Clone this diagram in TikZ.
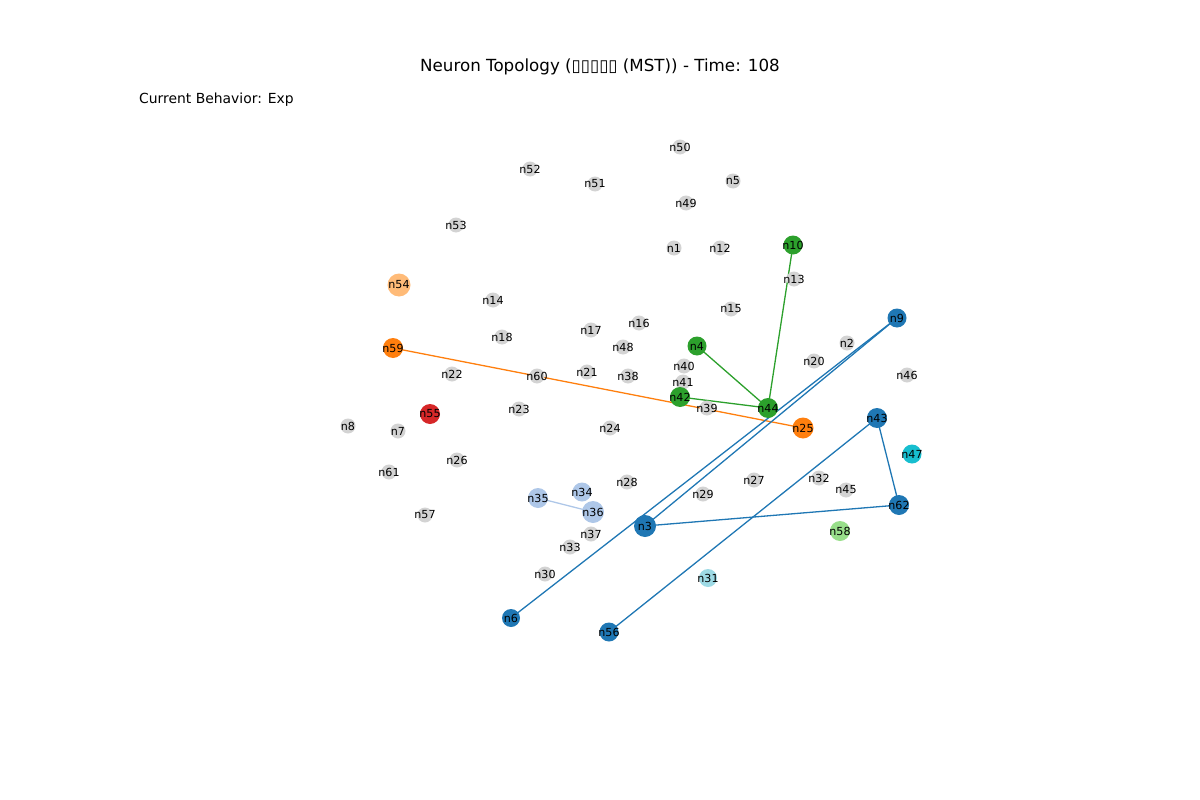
\documentclass[tikz,border=0pt]{standalone}
\usepackage{fontspec}
\setmainfont{DejaVu Sans}
\usetikzlibrary{backgrounds}
\definecolor{tabBlue}{HTML}{1F77B4}
\definecolor{tabLightBlue}{HTML}{AEC7E8}
\definecolor{tabOrange}{HTML}{FF7F0E}
\definecolor{tabLightOrange}{HTML}{FFBB78}
\definecolor{tabGreen}{HTML}{2CA02C}
\definecolor{tabLightGreen}{HTML}{98DF8A}
\definecolor{tabRed}{HTML}{D62728}
\definecolor{tabCyan}{HTML}{17BECF}
\definecolor{tabLightCyan}{HTML}{9EDAE5}
\definecolor{nodeGray}{HTML}{D3D3D3}
\newcommand{\neuronlabel}[1]{\makebox[0pt]{#1}}

\begin{document}
\begin{tikzpicture}[x=1pt, y=-1pt,
  nd/.style={circle, inner sep=0pt, minimum size=15pt, fill=nodeGray, text=black, font=\fontsize{11.1}{13}\selectfont},
  big/.style={nd, minimum size=20pt},
  link/.style={line width=1.3pt}]
	\useasboundingbox (0,0) rectangle (1200,800);
	\node[inner sep=0pt, font=\fontsize{16.7}{20}\selectfont] (title) at (600,67) {Neuron Topology (▯▯▯▯▯ (MST)) - Time: 108};
	\node[inner sep=0pt, anchor=west, font=\fontsize{13.9}{16}\selectfont] (behav) at (139,100) {Current Behavior: Exp};
	% grey neurons
	\node[nd] (n50) at (680,147) {\neuronlabel{n50}};
	\node[nd] (n52) at (530,169) {\neuronlabel{n52}};
	\node[nd] (n51) at (595,184) {\neuronlabel{n51}};
	\node[nd] (n5) at (733,181) {\neuronlabel{n5}};
	\node[nd] (n49) at (686,203) {\neuronlabel{n49}};
	\node[nd] (n53) at (456,225) {\neuronlabel{n53}};
	\node[nd] (n1) at (674,248) {\neuronlabel{n1}};
	\node[nd] (n12) at (720,248) {\neuronlabel{n12}};
	\node[nd] (n13) at (794,279) {\neuronlabel{n13}};
	\node[nd] (n14) at (493,300) {\neuronlabel{n14}};
	\node[nd] (n15) at (731,309) {\neuronlabel{n15}};
	\node[nd] (n16) at (639,323) {\neuronlabel{n16}};
	\node[nd] (n17) at (591,330) {\neuronlabel{n17}};
	\node[nd] (n18) at (502,337) {\neuronlabel{n18}};
	\node[nd] (n2) at (847,343) {\neuronlabel{n2}};
	\node[nd] (n48) at (623,347) {\neuronlabel{n48}};
	\node[nd] (n40) at (684,366) {\neuronlabel{n40}};
	\node[nd] (n20) at (814,361) {\neuronlabel{n20}};
	\node[nd] (n21) at (587,372) {\neuronlabel{n21}};
	\node[nd] (n22) at (452,374) {\neuronlabel{n22}};
	\node[nd] (n60) at (537,376) {\neuronlabel{n60}};
	\node[nd] (n38) at (628,376) {\neuronlabel{n38}};
	\node[nd] (n46) at (907,375) {\neuronlabel{n46}};
	\node[nd] (n41) at (683,382) {\neuronlabel{n41}};
	\node[nd] (n39) at (707,408) {\neuronlabel{n39}};
	\node[nd] (n23) at (519,409) {\neuronlabel{n23}};
	\node[nd] (n8) at (348,426) {\neuronlabel{n8}};
	\node[nd] (n7) at (398,431) {\neuronlabel{n7}};
	\node[nd] (n24) at (610,428) {\neuronlabel{n24}};
	\node[nd] (n26) at (457,460) {\neuronlabel{n26}};
	\node[nd] (n61) at (389,472) {\neuronlabel{n61}};
	\node[nd] (n28) at (627,482) {\neuronlabel{n28}};
	\node[nd] (n27) at (754,480) {\neuronlabel{n27}};
	\node[nd] (n32) at (819,478) {\neuronlabel{n32}};
	\node[nd] (n45) at (846,490) {\neuronlabel{n45}};
	\node[nd] (n29) at (703,494) {\neuronlabel{n29}};
	\node[nd] (n57) at (425,515) {\neuronlabel{n57}};
	\node[nd] (n37) at (591,534) {\neuronlabel{n37}};
	\node[nd] (n33) at (570,547) {\neuronlabel{n33}};
	\node[nd] (n30) at (545,574) {\neuronlabel{n30}};
	% coloured neurons
	\node[big, fill=tabLightOrange, minimum size=23pt] (n54) at (399,285) {\neuronlabel{n54}};
	\node[big, fill=tabOrange] (n59) at (393,348) {\neuronlabel{n59}};
	\node[big, fill=tabOrange, minimum size=21pt] (n25) at (803,428) {\neuronlabel{n25}};
	\node[big, fill=tabGreen, minimum size=19pt] (n10) at (793,245) {\neuronlabel{n10}};
	\node[big, fill=tabGreen, minimum size=19pt] (n4) at (697,346) {\neuronlabel{n4}};
	\node[big, fill=tabGreen] (n42) at (680,397) {\neuronlabel{n42}};
	\node[big, fill=tabGreen] (n44) at (768,408) {\neuronlabel{n44}};
	\node[big, fill=tabRed] (n55) at (430,414) {\neuronlabel{n55}};
	\node[big, fill=tabBlue, minimum size=19pt] (n9) at (897,318) {\neuronlabel{n9}};
	\node[big, fill=tabBlue] (n43) at (877,418) {\neuronlabel{n43}};
	\node[big, fill=tabBlue] (n62) at (899,505) {\neuronlabel{n62}};
	\node[big, fill=tabBlue, minimum size=22pt] (n3) at (645,526) {\neuronlabel{n3}};
	\node[big, fill=tabBlue, minimum size=18pt] (n6) at (511,618) {\neuronlabel{n6}};
	\node[big, fill=tabBlue, minimum size=19pt] (n56) at (609,632) {\neuronlabel{n56}};
	\node[big, fill=tabCyan, minimum size=19pt] (n47) at (912,454) {\neuronlabel{n47}};
	\node[big, fill=tabLightGreen] (n58) at (840,531) {\neuronlabel{n58}};
	\node[big, fill=tabLightCyan, minimum size=18pt] (n31) at (708,578) {\neuronlabel{n31}};
	\node[big, fill=tabLightBlue, minimum size=19pt] (n34) at (582,492) {\neuronlabel{n34}};
	\node[big, fill=tabLightBlue] (n35) at (538,498) {\neuronlabel{n35}};
	\node[big, fill=tabLightBlue, minimum size=22pt] (n36) at (593,512) {\neuronlabel{n36}};
	% MST edges
	\begin{scope}[on background layer]
		\draw[link, tabOrange] (n59.center) -- (n25.center);
		\draw[link, tabGreen] (n10.center) -- (n44.center);
		\draw[link, tabGreen] (n4.center) -- (n44.center);
		\draw[link, tabGreen] (n42.center) -- (n44.center);
		\draw[link, tabLightBlue] (n35.center) -- (n36.center);
		\draw[link, tabBlue] (n9.center) -- (n6.center);
		\draw[link, tabBlue] (n9.center) -- (n3.center);
		\draw[link, tabBlue] (n43.center) -- (n56.center);
		\draw[link, tabBlue] (n43.center) -- (n62.center);
		\draw[link, tabBlue] (n3.center) -- (n62.center);
	\end{scope}
\end{tikzpicture}
\end{document}
